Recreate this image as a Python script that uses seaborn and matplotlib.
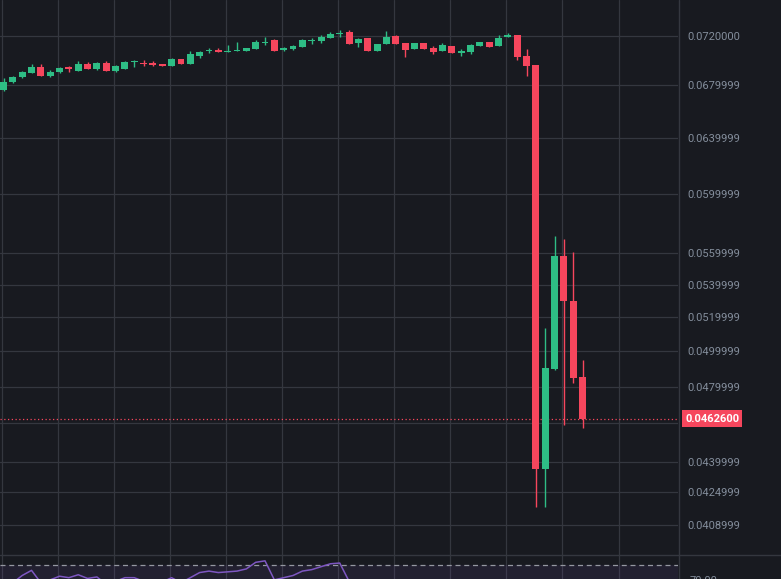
import numpy as np
import pandas as pd
import matplotlib
matplotlib.use("Agg")
import matplotlib.pyplot as plt
import matplotlib.transforms as mtransforms
from matplotlib.lines import Line2D
import seaborn as sns

# candle data (price)
opens = [0.06765, 0.06828, 0.06867, 0.06899, 0.06947, 0.06875, 0.06907, 0.06943, 0.06915, 0.06971,
         0.06931, 0.06979, 0.06915, 0.06931, 0.06987, 0.06979, 0.06975, 0.06971, 0.06955, 0.07011,
         0.06971, 0.07036, 0.07077, 0.07085, 0.07068, 0.07077, 0.07077, 0.07093, 0.07142, 0.07167,
         0.07085, 0.07093, 0.07109, 0.07159, 0.07159, 0.07183, 0.07217, 0.07233, 0.07142, 0.07183,
         0.07077, 0.07134, 0.07200, 0.07142, 0.07093, 0.07142, 0.07101, 0.07077, 0.07117, 0.07060,
         0.07068, 0.07117, 0.07150, 0.07117, 0.07192, 0.07208, 0.07036, 0.06963, 0.04364, 0.04898,
         0.05582, 0.05299, 0.04853]
closes = [0.06828, 0.06867, 0.06907, 0.06947, 0.06875, 0.06907, 0.06939, 0.06931, 0.06971, 0.06931,
          0.06979, 0.06915, 0.06955, 0.06987, 0.06991, 0.06967, 0.06963, 0.06955, 0.07011, 0.06971,
          0.07052, 0.07068, 0.07081, 0.07064, 0.07073, 0.07081, 0.07101, 0.07150, 0.07150, 0.07077,
          0.07101, 0.07117, 0.07167, 0.07167, 0.07192, 0.07217, 0.07225, 0.07134, 0.07175, 0.07077,
          0.07134, 0.07192, 0.07134, 0.07085, 0.07142, 0.07093, 0.07068, 0.07126, 0.07060, 0.07077,
          0.07126, 0.07150, 0.07109, 0.07183, 0.07208, 0.07028, 0.06955, 0.04364, 0.04904, 0.05582,
          0.05299, 0.04848, 0.04626]
highs = [0.06859, 0.06875, 0.06915, 0.06971, 0.06971, 0.06923, 0.06947, 0.06955, 0.06995, 0.06987,
         0.06987, 0.06995, 0.06963, 0.06995, 0.06999, 0.07003, 0.06995, 0.06971, 0.07020, 0.07011,
         0.07077, 0.07077, 0.07101, 0.07101, 0.07126, 0.07150, 0.07101, 0.07167, 0.07192, 0.07175,
         0.07109, 0.07126, 0.07175, 0.07183, 0.07208, 0.07233, 0.07250, 0.07250, 0.07183, 0.07183,
         0.07134, 0.07242, 0.07208, 0.07142, 0.07142, 0.07142, 0.07117, 0.07142, 0.07117, 0.07093,
         0.07134, 0.07150, 0.07150, 0.07208, 0.07225, 0.07208, 0.07093, 0.06963, 0.05136, 0.05713,
         0.05693, 0.05608, 0.04950]
lows = [0.06758, 0.06820, 0.06859, 0.06899, 0.06875, 0.06867, 0.06899, 0.06907, 0.06915, 0.06931,
        0.06923, 0.06915, 0.06907, 0.06931, 0.06947, 0.06955, 0.06955, 0.06955, 0.06955, 0.06971,
        0.06971, 0.07020, 0.07060, 0.07064, 0.07064, 0.07077, 0.07077, 0.07093, 0.07126, 0.07077,
        0.07077, 0.07085, 0.07109, 0.07134, 0.07142, 0.07183, 0.07192, 0.07130, 0.07109, 0.07077,
        0.07077, 0.07134, 0.07134, 0.07028, 0.07093, 0.07093, 0.07052, 0.07077, 0.07060, 0.07036,
        0.07052, 0.07117, 0.07109, 0.07117, 0.07192, 0.07003, 0.06875, 0.04176, 0.04176, 0.04893,
        0.04591, 0.04820, 0.04575]

# RSI (lower pane, mostly cut off)
rsi = [55, 58, 63, 66.5, 58, 60, 62.5, 61.5, 63.5, 61, 62, 57, 59, 61.5, 61.5, 59, 58, 58.5, 61.5, 58,
       61.5, 65, 66, 65, 65.5, 66, 67.5, 72, 73, 60, 61.5, 63, 66, 67, 69, 71, 71.5, 59, 58, 50,
       55, 58, 52, 46, 50, 45, 44, 50, 44, 46, 52, 55, 52, 58, 59, 45, 40, 12, 25, 35,
       30, 25, 22]

price_ticks = [0.072, 0.068, 0.064, 0.060, 0.056, 0.054, 0.052, 0.050, 0.048, 0.046, 0.044, 0.0425, 0.0409]
price_labels = ["0.0720000", "0.0679999", "0.0639999", "0.0599999", "0.0559999", "0.0539999",
                "0.0519999", "0.0499999", "0.0479999", "", "0.0439999", "0.0424999", "0.0408999"]
last_price = 0.04626
last_label = "0.0462600"
rsi_label = "70.00"

BG = "#181a20"
GRID = "#34373f"
TXT = "#848e9c"
UP = "#2ebd85"
DOWN = "#f6465d"

sns.set_style("dark")
plt.rcParams["font.family"] = ["Roboto", "DejaVu Sans"]

df = pd.DataFrame({"open": opens, "high": highs, "low": lows, "close": closes, "rsi": rsi})
df["idx"] = np.arange(len(df))
df["up"] = df["close"] >= df["open"]
df["color"] = np.where(df["up"], UP, DOWN)

W, H = 781, 579
fig = plt.figure(figsize=(W / 100, H / 100), dpi=100, facecolor=BG)
ax = fig.add_axes([0, 24 / H, 678 / W, 555 / H])
rax = fig.add_axes([0, -96 / H, 678 / W, 120 / H], sharex=ax)

for a in (ax, rax):
    a.set_facecolor(BG)
    for s in a.spines.values():
        s.set_visible(False)
    a.grid(False)

xlim = (-3.5 / 9.34, (678 - 3.5) / 9.34)
vgrid = np.arange(0, 72, 6)

# main pane
ax.set_yscale("log")
ax.set_ylim(0.03951, 0.07506)
ax.set_xlim(*xlim)
for y in price_ticks:
    ax.axhline(y, color=GRID, lw=0.9, zorder=0)
for x in vgrid:
    ax.axvline(x - 0.15, color=GRID, lw=0.9, zorder=0)

lo_b = np.minimum(df["open"], df["close"])
hi_b = np.maximum(df["open"], df["close"])
hi_b = np.maximum(hi_b, lo_b * 1.0013)
ax.vlines(df["idx"], df["low"], df["high"], colors=df["color"], lw=1.0, zorder=2)
ax.bar(df["idx"], hi_b - lo_b, bottom=lo_b, width=0.74, color=df["color"], linewidth=0, zorder=3)

ax.axhline(last_price, color=DOWN, lw=0.9, ls=(0, (1, 2)), zorder=1)

ax.yaxis.tick_right()
ax.set_yticks(price_ticks)
ax.set_yticklabels(price_labels)
ax.minorticks_off()
ax.tick_params(axis="y", length=0, pad=7, labelsize=8, labelcolor=TXT)
ax.tick_params(axis="x", length=0, labelbottom=False)

trans = mtransforms.blended_transform_factory(ax.transAxes, ax.transData)
ax.text(1 + 7 / 678, last_price, last_label, transform=trans, ha="left", va="center",
        color="white", fontsize=8, fontweight="bold",
        bbox=dict(boxstyle="square,pad=0.3", fc=DOWN, ec="none"), clip_on=False, zorder=5)

# RSI pane
rax.set_ylim(-5, 77)
for x in vgrid:
    rax.axvline(x - 0.15, color=GRID, lw=0.9, zorder=0)
rax.axhspan(30, 70, color="#7e57c2", alpha=0.1, lw=0, zorder=0)
rax.axhline(70, color="#9598a1", lw=0.9, ls=(0, (4, 3)), zorder=1)
sns.lineplot(data=df, x="idx", y="rsi", ax=rax, color="#7e57c2", lw=1.1, zorder=2)
rax.set_xlabel("")
rax.set_ylabel("")
rax.set_yticks([])
rax.tick_params(axis="x", length=0, labelbottom=False)
rax.set_xlim(*xlim)
fig.text(690 / W, 1 - 576 / H, rsi_label, color=TXT, fontsize=8, ha="left", va="top")

# pane borders
fig.add_artist(Line2D([0, 1], [24 / H, 24 / H], color=GRID, lw=1.0, transform=fig.transFigure))
fig.add_artist(Line2D([678.5 / W, 678.5 / W], [0, 1], color=GRID, lw=1.0, transform=fig.transFigure))

fig.savefig("out.png", dpi=100, facecolor=BG)
